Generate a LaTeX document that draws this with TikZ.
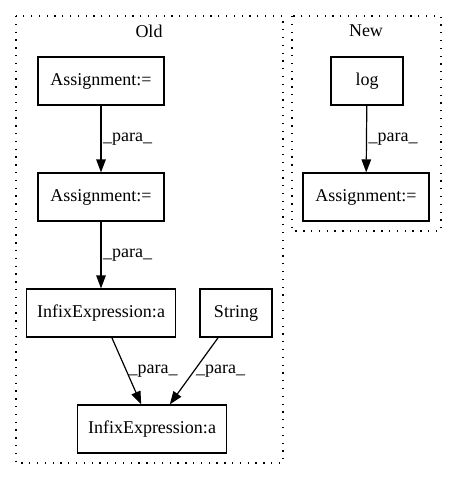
\documentclass[tikz,border=0pt]{standalone}
\usepackage{fontspec}
\setmainfont{Liberation Serif}
\usetikzlibrary{arrows.meta}
\begin{document}
\begin{tikzpicture}
[x=1pt,y=-1pt,%
  nodeBox/.style={draw,rectangle,line width=1.2pt,minimum height=48pt,inner sep=0pt,font=\fontsize{18}{20}\selectfont},%
  clusterBox/.style={line width=1.3pt,dash pattern=on 1.3pt off 6.5pt},%
  clusterTitle/.style={font=\fontsize{18}{20}\selectfont},%
  edgePara/.style={-{Triangle[length=13pt,width=9.5pt]},line width=1.2pt},%
  labelPara/.style={right,inner sep=1.5pt,font=\fontsize{18}{20}\selectfont}]
\useasboundingbox (0,0) rectangle (456,480);
%% clusters
\draw[clusterBox] (16,16) rectangle (283,463);
\draw[clusterBox] (292,16) rectangle (441,231);
\node (oldTitle) at (149,31) [clusterTitle] {Old};
\node (newTitle) at (366,31) [clusterTitle] {New};
%% nodes of the old version
\node (assignA) at (101,81) [nodeBox,minimum width=126pt] {Assignment:=};
\node (assignB) at (101,197) [nodeBox,minimum width=126pt] {Assignment:=};
\node (infixA) at (101,313) [nodeBox,minimum width=149pt] {InfixExpression:a};
\node (string) at (236,313) [nodeBox,minimum width=72pt] {String};
\node (infixB) at (152,429) [nodeBox,minimum width=149pt] {InfixExpression:a};
%% nodes of the new version
\node (log) at (367,81) [nodeBox,minimum width=72pt] {log};
\node (assignC) at (366,197) [nodeBox,minimum width=126pt] {Assignment:=};
%% edges
\draw[edgePara] (assignA) -- node[labelPara] {\_para\_} (assignB);
\draw[edgePara] (assignB) -- node[labelPara] {\_para\_} (infixA);
\draw[edgePara] (infixA) -- node[labelPara] {\_para\_} (infixB);
\draw[edgePara] (string) -- node[labelPara] {\_para\_} (infixB);
\draw[edgePara] (log) -- node[labelPara] {\_para\_} (assignC);
\end{tikzpicture}
\end{document}
